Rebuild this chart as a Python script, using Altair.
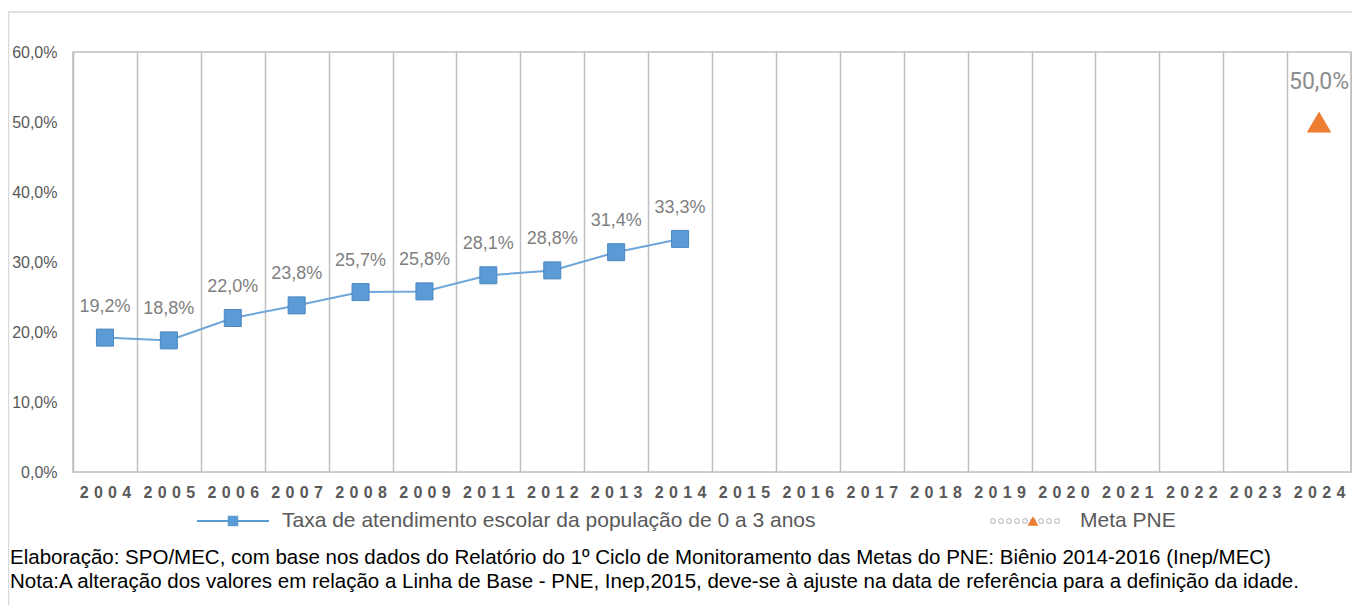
import altair as alt
import pandas as pd

anos = ["2004", "2005", "2006", "2007", "2008", "2009", "2011", "2012", "2013", "2014",
        "2015", "2016", "2017", "2018", "2019", "2020", "2021", "2022", "2023", "2024"]
anos_serie = ["2004", "2005", "2006", "2007", "2008", "2009", "2011", "2012", "2013", "2014"]
taxa = [19.2, 18.8, 22.0, 23.8, 25.7, 25.8, 28.1, 28.8, 31.4, 33.3]
meta_ano = ["2024"]
meta_valor = [50.0]
y_ticks = [0, 10, 20, 30, 40, 50, 60]
legenda_serie = "Taxa de atendimento escolar da população de 0 a 3 anos"
legenda_meta = "Meta PNE"
nota1 = "Elaboração: SPO/MEC, com base nos dados do Relatório do 1º Ciclo de Monitoramento das Metas do PNE: Biênio 2014-2016 (Inep/MEC)"
nota2 = "Nota:A alteração dos valores em relação a Linha de Base - PNE, Inep,2015,  deve-se à ajuste na data de referência para a definição da idade."


def fmt(v):
    return f"{v:.1f}".replace(".", ",") + "%"


df = pd.DataFrame({"ano": anos_serie, "valor": taxa, "rotulo": [fmt(v) for v in taxa]})
dm = pd.DataFrame({"ano": meta_ano, "valor": meta_valor, "rotulo": [fmt(v) for v in meta_valor]})
one = pd.DataFrame({"k": [0]})

W, H = 1278, 420
AZUL = "#5B9BD5"
LARANJA = "#ED7D31"
CINZA = "#595959"
FONT = "Liberation Sans"

xenc = alt.X(
    "ano:N",
    scale=alt.Scale(domain=anos, paddingInner=0, paddingOuter=0),
    axis=alt.Axis(
        title=None, tickBand="extent", grid=True, gridColor="#BFBFBF", gridWidth=1.5,
        ticks=False, domain=False, labelAngle=0, labelFont=FONT, labelFontSize=16,
        labelFontWeight="bold", labelColor=CINZA, labelPadding=12,
        labelExpr="join(split(datum.label, ''), '\u2004')",
    ),
)
yenc = alt.Y(
    "valor:Q",
    scale=alt.Scale(domain=[0, 60], nice=False),
    axis=alt.Axis(
        title=None, values=y_ticks, grid=False, ticks=False, domain=False,
        labelFont=FONT, labelFontSize=16, labelColor=CINZA, labelPadding=16,
        labelExpr="replace(format(datum.value, '.1f'), '.', ',') + '%'",
    ),
)

base = alt.Chart(df).encode(x=xenc, y=yenc)
linha = base.mark_line(color="#6FA6DA", strokeWidth=2)
pontos = base.mark_point(shape="square", filled=True, size=289, color=AZUL, opacity=1,
                         stroke="#4A86C0", strokeWidth=1)
rotulos = base.mark_text(dy=-31, font=FONT, fontSize=18, color="#7F7F7F").encode(text="rotulo:N")

bm = alt.Chart(dm).encode(x=alt.X("ano:N"), y=alt.Y("valor:Q"))
meta = bm.mark_point(shape="triangle-up", filled=True, size=600, color=LARANJA, opacity=1)
meta_rot = bm.mark_text(dy=-40, font="Roboto", fontSize=23, color="#8C8C8C").encode(text="rotulo:N")

borda = alt.Chart(one).mark_rect(fill="transparent", stroke="#D9D9D9", strokeWidth=1.5).encode(
    x=alt.value(-64.5), x2=alt.value(1300), y=alt.value(-40), y2=alt.value(700))

LY = 469
leg_linha = alt.Chart(one).mark_rule(color=AZUL, strokeWidth=2).encode(
    x=alt.value(124), x2=alt.value(196), y=alt.value(LY))
leg_ponto = alt.Chart(one).mark_point(shape="square", filled=True, size=110, color=AZUL, opacity=1).encode(
    x=alt.value(160), y=alt.value(LY))
leg_txt = alt.Chart(one).mark_text(align="left", baseline="middle", font=FONT, fontSize=21, color=CINZA).encode(
    x=alt.value(209), y=alt.value(LY), text=alt.value(legenda_serie))

leg_dots = alt.Chart(one).mark_rule(color="#C8C8C8", strokeWidth=6, strokeDash=[0.01, 8], strokeCap="round").encode(
    x=alt.value(920), x2=alt.value(992), y=alt.value(LY))
leg_dots2 = alt.Chart(one).mark_rule(color="white", strokeWidth=3.5, strokeDash=[0.01, 8], strokeCap="round").encode(
    x=alt.value(920), x2=alt.value(992), y=alt.value(LY))
leg_tri = alt.Chart(one).mark_point(shape="triangle-up", filled=True, size=120, color=LARANJA, opacity=1).encode(
    x=alt.value(960), y=alt.value(LY))
leg_txt2 = alt.Chart(one).mark_text(align="left", baseline="middle", font=FONT, fontSize=21, color=CINZA).encode(
    x=alt.value(1007), y=alt.value(LY), text=alt.value(legenda_meta))

nota_a = alt.Chart(one).mark_text(align="left", baseline="middle", font=FONT, fontSize=20.5, color="#000000").encode(
    x=alt.value(-63), y=alt.value(506), text=alt.value(nota1))
nota_b = alt.Chart(one).mark_text(align="left", baseline="middle", font=FONT, fontSize=20.5, color="#000000").encode(
    x=alt.value(-63), y=alt.value(530), text=alt.value(nota2))

chart = alt.layer(
    borda, linha, pontos, rotulos, meta, meta_rot,
    leg_linha, leg_ponto, leg_txt, leg_dots, leg_dots2, leg_tri, leg_txt2, nota_a, nota_b,
).properties(
    width=W, height=H,
    autosize=alt.AutoSizeParams(type="none"),
    padding={"left": 65, "top": 44, "right": 1, "bottom": 133},
    background="white",
).configure_view(stroke="#BFBFBF", strokeWidth=1.5)

chart.save("out.html", embed_options={"renderer": "svg", "actions": False})
